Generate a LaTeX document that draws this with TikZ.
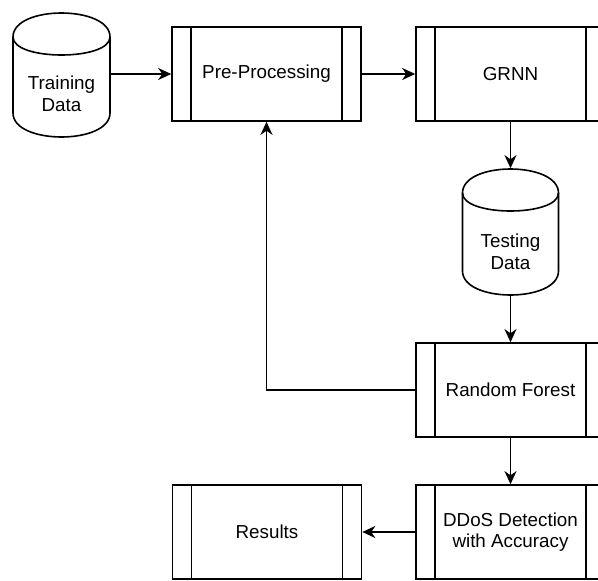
\documentclass[tikz,border=0pt]{standalone}
\usepackage{fontspec}
\setmainfont{Liberation Sans}
\usetikzlibrary{arrows.meta,calc}
\tikzset{
  proc/.style={draw, rectangle, minimum width=189pt, minimum height=94pt, inner sep=0pt, align=center,
    path picture={
      \draw ([xshift=18.9pt]path picture bounding box.north west) -- ([xshift=18.9pt]path picture bounding box.south west);
      \draw ([xshift=-18.9pt]path picture bounding box.north east) -- ([xshift=-18.9pt]path picture bounding box.south east);
    }},
  cylbox/.style={rectangle, inner sep=0pt},
  lbl/.style={align=center, inner sep=0pt},
  arr/.style={-{Stealth[length=13pt, width=12pt, inset=4pt]}},
}
\begin{document}
\begin{tikzpicture}[x=1pt, y=-1pt, line width=1.6pt, font=\fontsize{18.8}{21.6}\selectfont]
\useasboundingbox (0,0) rectangle (598,581);
\clip (0,0) rectangle (598,581);

% Training Data cylinder
\node[cylbox, minimum width=97pt, minimum height=124pt] (td) at (61.5,75) {};
\draw (13,37) .. controls (13,5) and (110,5) .. (110,37) -- (110,113) .. controls (110,145) and (13,145) .. (13,113) -- cycle;
\draw (13,37) .. controls (13,61) and (110,61) .. (110,37);
\node[lbl] (tdl) at (61.5,94) {Training\\Data};

% Testing Data cylinder
\node[cylbox, minimum width=96pt, minimum height=126pt] (ts) at (510.5,232) {};
\draw (462.5,193) .. controls (462.5,161) and (558.5,161) .. (558.5,193) -- (558.5,271) .. controls (558.5,303) and (462.5,303) .. (462.5,271) -- cycle;
\draw (462.5,193) .. controls (462.5,217) and (558.5,217) .. (558.5,193);
\node[lbl] (tsl) at (510.5,252) {Testing\\Data};

% Process boxes
\node[proc] (pp) at (266.5,74) {Pre-Processing};
\node[proc] (grnn) at (510.5,74) {GRNN};
\node[proc] (rf) at (510.5,390) {Random Forest};
\node[proc] (dd) at (510.5,532) {DDoS Detection\\with Accuracy};
\node[proc] (res) at (267,532) {Results};

% Connectors
\draw[arr] (td.east |- pp.west) -- (pp.west);
\draw[arr] (pp.east) -- (grnn.west);
\draw[arr] (grnn.south) -- (ts.north);
\draw[arr] (ts.south) -- (rf.north);
\draw[arr] (rf.south) -- (dd.north);
\draw[arr] (dd.west) -- (res.east);
\draw[arr] (rf.west) -| (pp.south);
\end{tikzpicture}
\end{document}
